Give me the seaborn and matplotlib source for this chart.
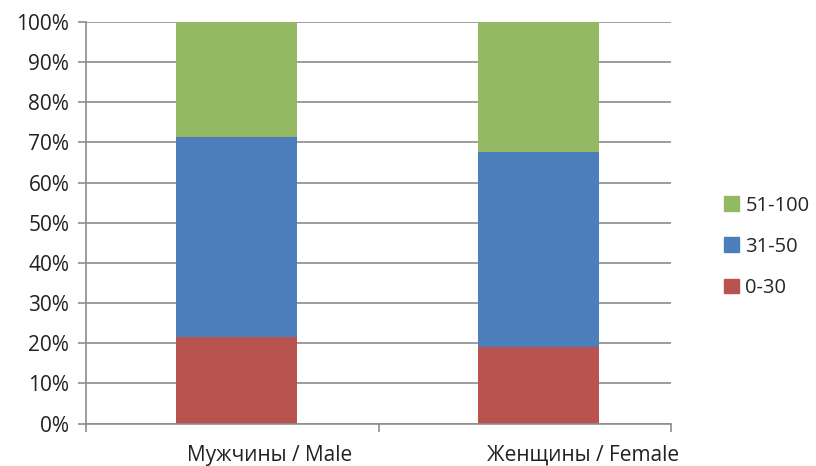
import matplotlib
matplotlib.use("Agg")
import matplotlib.pyplot as plt
import matplotlib.patches as mpatches
import numpy as np
import pandas as pd
import seaborn as sns

groups = ["Мужчины / Male", "Женщины / Female"]
bands = ["0-30", "31-50", "51-100"]
low = [21.5, 19.0]     # 0-30
mid = [49.9, 48.7]     # 31-50
high = [28.6, 32.3]    # 51-100
colors = ["#B9534F", "#4C7EBB", "#93B964"]

sns.set_style("white")
plt.rcParams["font.family"] = ["Open Sans", "DejaVu Sans"]

df = pd.DataFrame({"group": groups, "0-30": low, "31-50": mid, "51-100": high})

fig = plt.figure(figsize=(8.16, 4.66), dpi=100)
ax = fig.add_axes([0.1054, 0.0908, 0.7169, 0.8626])

bottom = np.zeros(len(groups))
for band, col in zip(bands, colors):
    sns.barplot(data=df, x="group", y=band, color=col, width=0.4,
                bottom=bottom, ax=ax, linewidth=0, saturation=1)
    bottom = bottom + df[band].values

grid_c = "#8C8C8C"
ax.set_ylim(0, 100)
ax.set_xlim(-0.5, 1.44)
ax.set_yticks(np.arange(0, 101, 10))
ax.set_yticklabels([f"{v}%" for v in range(0, 101, 10)], fontsize=15, color="#222222")
ax.yaxis.grid(True, color=grid_c, linewidth=1.2)
ax.set_axisbelow(True)
ax.tick_params(axis="y", length=6, color=grid_c, width=1.2, pad=6, left=True)

ax.set_xticks([0.11, 1.15])
ax.set_xticklabels(groups, fontsize=15, color="#222222")
ax.tick_params(axis="x", which="major", length=0, pad=15)
ax.set_xticks([-0.5, 0.47, 1.44], minor=True)
ax.tick_params(axis="x", which="minor", length=6, color=grid_c, width=1.2, bottom=True)

ax.set_xlabel("")
ax.set_ylabel("")
for s in ["top", "right"]:
    ax.spines[s].set_visible(False)
for s in ["left", "bottom"]:
    ax.spines[s].set_color(grid_c)
    ax.spines[s].set_linewidth(1.2)

handles = [mpatches.Patch(color=c, label=b) for b, c in zip(bands, colors)][::-1]
ax.legend(handles=handles, loc="center left", bbox_to_anchor=(1.06, 0.44),
          frameon=False, fontsize=14.5, handlelength=0.75, handleheight=0.75,
          handletextpad=0.3, labelspacing=1.05)

fig.savefig("out.png", dpi=100)
